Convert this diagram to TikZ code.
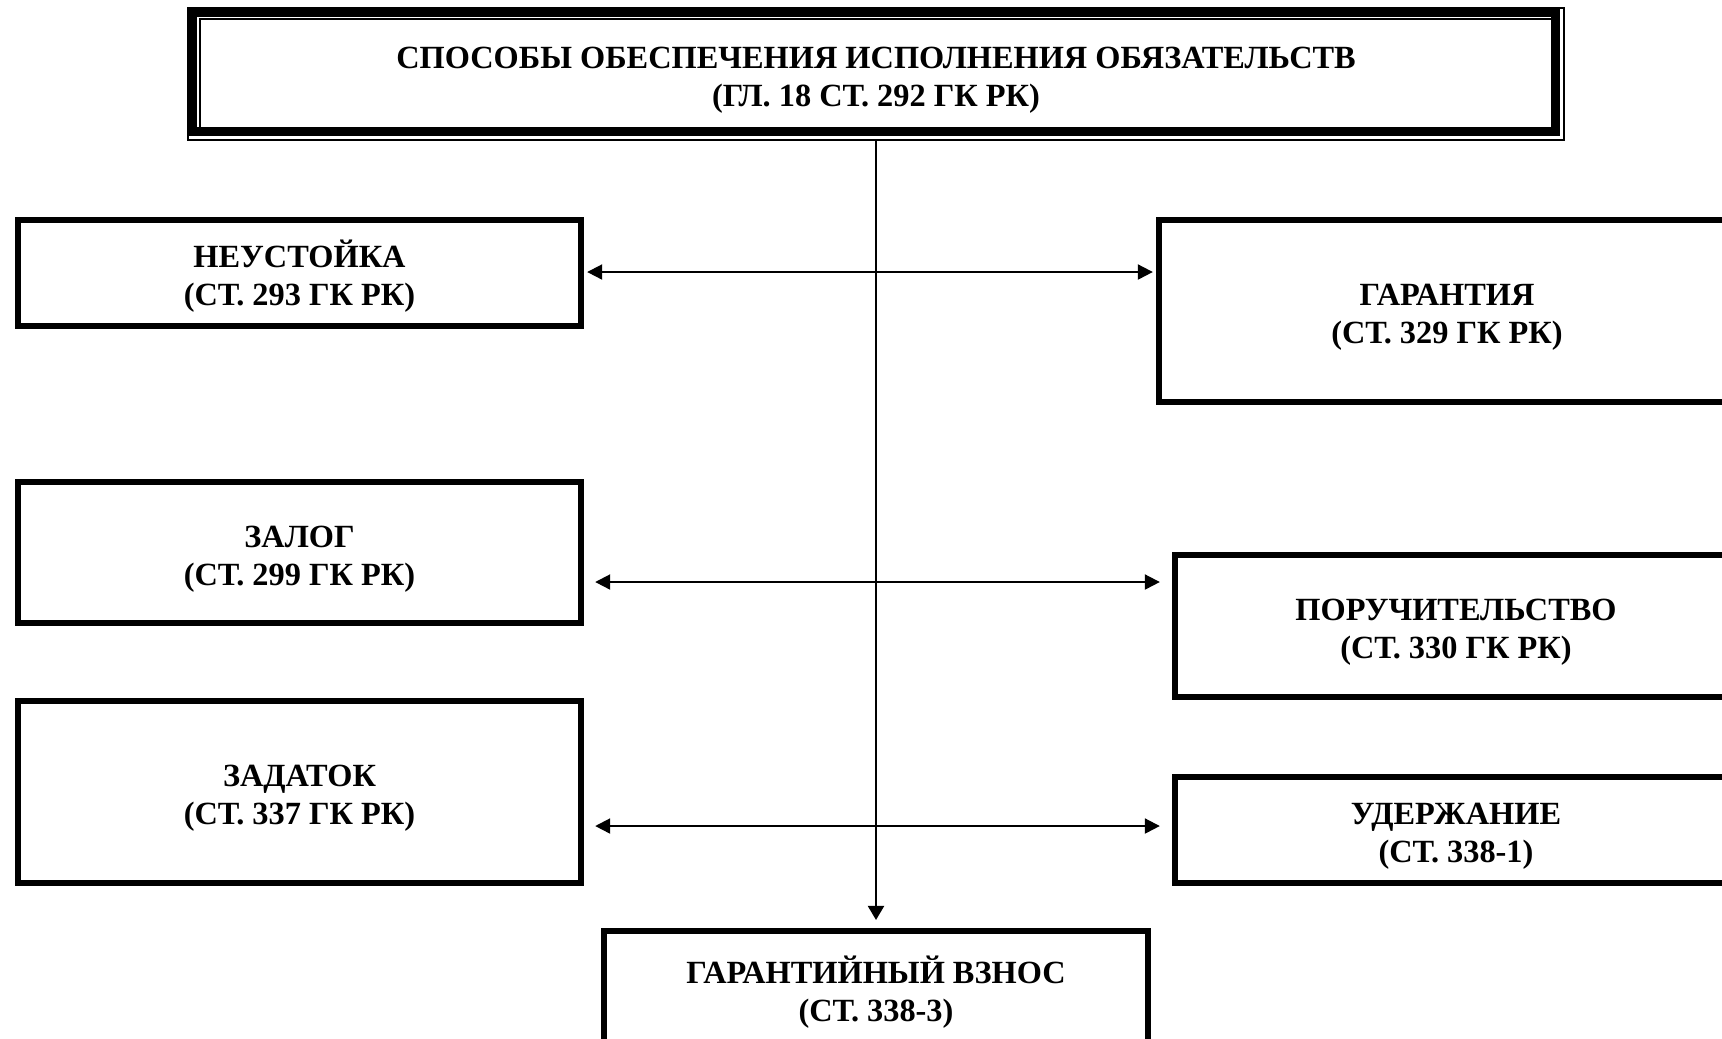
\documentclass[tikz,border=0pt]{standalone}
\usepackage{fontspec}
\setmainfont{Liberation Serif}
\usetikzlibrary{arrows.meta, positioning, calc}

\begin{document}
\begin{tikzpicture}[
          x=0.01cm, y=-0.01cm,
          every node/.style={font=\fontsize{9.2}{10.8}\selectfont\bfseries, align=center, text height=20.5pt, text depth=2pt},
          itembox/.style={rectangle, draw=black, line width=0.06cm, inner sep=0pt},
          linkarrow/.style={line width=0.02cm, {Triangle[length=0.15cm, width=0.15cm]}-{Triangle[length=0.15cm, width=0.15cm]}},
          downarrow/.style={line width=0.02cm, -{Triangle[length=0.14cm, width=0.16cm]}}
        ]
          \useasboundingbox (0, 0) rectangle (1722, 1038);

          % Title with double frame
          \node[minimum width=13.73cm, minimum height=1.30cm, inner sep=0pt] (title) at (876, 74)
            {СПОСОБЫ ОБЕСПЕЧЕНИЯ ИСПОЛНЕНИЯ ОБЯЗАТЕЛЬСТВ \\ (ГЛ. 18 СТ. 292 ГК РК)};
          \draw[line width=0.02cm] (title.north west) rectangle (title.south east);
          \draw[line width=0.088cm] ([shift={(4.5, 4.5)}]title.north west) rectangle ([shift={(-8, -8)}]title.south east);
          \draw[line width=0.02cm] ([shift={(12, 11)}]title.north west) rectangle ([shift={(-12, -12)}]title.south east);

          % Left column
          \node[itembox, minimum width=5.63cm, minimum height=1.06cm] (neust) at (299.5, 273) {НЕУСТОЙКА \\ (СТ. 293 ГК РК)};
          \node[itembox, minimum width=5.63cm, minimum height=1.41cm] (zalog) at (299.5, 552.5) {ЗАЛОГ \\ (СТ. 299 ГК РК)};
          \node[itembox, minimum width=5.63cm, minimum height=1.82cm] (zadatok) at (299.5, 792) {ЗАДАТОК \\ (СТ. 337 ГК РК)};

          % Right column
          \node[itembox, minimum width=5.76cm, minimum height=1.82cm] (garant) at (1447, 311) {ГАРАНТИЯ \\ (СТ. 329 ГК РК)};
          \node[itembox, minimum width=5.62cm, minimum height=1.42cm] (poruch) at (1456, 626) {ПОРУЧИТЕЛЬСТВО \\ (СТ. 330 ГК РК)};
          \node[itembox, minimum width=5.62cm, minimum height=1.06cm] (uderzh) at (1456, 830) {УДЕРЖАНИЕ \\ (СТ. 338-1)};

          % Bottom box
          \node[itembox, minimum width=5.44cm, minimum height=1.16cm] (vznos) at (876, 989) {ГАРАНТИЙНЫЙ ВЗНОС \\ (СТ. 338-3)};

          % Connectors
          \coordinate (row1) at (876, 272);
          \coordinate (row2) at (876, 582);
          \coordinate (row3) at (876, 826);
          \draw[downarrow, shorten >=0.08cm] (title.south) -- (vznos.north);
          \draw[linkarrow, shorten <=0.03cm, shorten >=0.03cm] (neust.east |- row1) -- (garant.west |- row1);
          \draw[linkarrow, shorten <=0.11cm, shorten >=0.12cm] (zalog.east |- row2) -- (poruch.west |- row2);
          \draw[linkarrow, shorten <=0.11cm, shorten >=0.12cm] (zadatok.east |- row3) -- (uderzh.west |- row3);
        \end{tikzpicture}
\end{document}
